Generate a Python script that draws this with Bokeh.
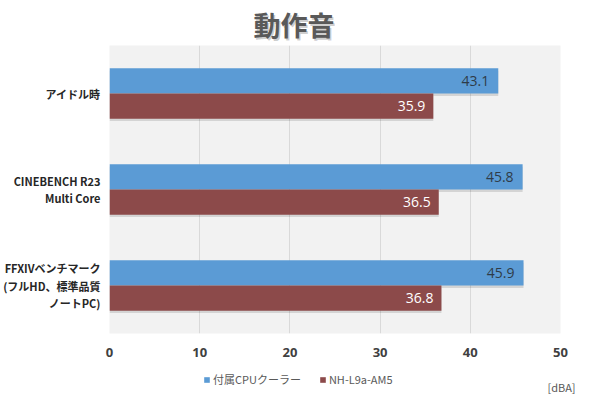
from bokeh.plotting import figure
from bokeh.layouts import column
from bokeh.models import (ColumnDataSource, FactorRange, Range1d, Legend, LegendItem,
                          Label, FixedTicker, Plot)
from bokeh.transform import dodge
from bokeh.core.properties import value
from bokeh.embed import file_html
from bokeh.resources import INLINE

# ---- data ----
categories = ["アイドル時", "CINEBENCH R23\nMulti Core", "FFXIVベンチマーク\n(フルHD、標準品質\nノートPC)"]
series_names = ["付属CPUクーラー", "NH-L9a-AM5"]
stock_cooler = [43.1, 45.8, 45.9]
nh_l9a = [35.9, 36.5, 36.8]
x_ticks = [0, 10, 20, 30, 40, 50]
title_text = "動作音"
unit_text = "[dBA]"

BLUE = "#5B9BD5"
RED = "#8C4A4A"
JP = "Noto Sans CJK JP"
W = 590
HAS_FA = "frame_align" in Plot.properties()


def no_align(f):
    if HAS_FA:
        f.frame_align = False
    return f


def helper_fig(h):
    f = figure(width=W, height=h, output_backend="svg", toolbar_location=None,
               x_range=Range1d(0, W), y_range=Range1d(0, h),
               x_axis_location=None, y_axis_location=None,
               min_border=0, min_border_left=0, min_border_right=0,
               min_border_top=0, min_border_bottom=0)
    f.outline_line_color = None
    f.grid.visible = False
    f.background_fill_color = "white"
    f.border_fill_color = "white"
    return no_align(f)


src = ColumnDataSource(dict(
    cat=categories,
    stock=stock_cooler,
    nh=nh_l9a,
    stock_lbl=[f"{v:.1f}" for v in stock_cooler],
    nh_lbl=[f"{v:.1f}" for v in nh_l9a],
))

# ---- title strip ----
TH = 45
t = helper_fig(TH)
t.add_layout(Label(x=295, y=TH - 25.5, text=title_text,
                   text_align="center", text_baseline="middle", text_font=JP,
                   text_font_style="bold", text_font_size="27px", text_color="#000000",
                   text_alpha=0.2))
t.add_layout(Label(x=293.5, y=TH - 24, text=title_text,
                   text_align="center", text_baseline="middle", text_font=JP,
                   text_font_style="bold", text_font_size="27px", text_color="#595959"))

# ---- main chart ----
p = figure(width=W, height=320, output_backend="svg", toolbar_location=None,
           y_range=FactorRange(factors=list(reversed(categories)), range_padding=0),
           x_range=Range1d(0, 50),
           min_border_left=108, min_border_right=30, min_border_top=0, min_border_bottom=32)
no_align(p)

p.background_fill_color = "#F2F2F2"
p.border_fill_color = "white"
p.outline_line_color = None

OFF = 0.131
H = 0.262

p.hbar(y=dodge("cat", OFF - 0.025, range=p.y_range), left=0, right="stock", height=H,
       source=src, fill_color="#000000", fill_alpha=0.12, line_color=None)
p.hbar(y=dodge("cat", -OFF - 0.025, range=p.y_range), left=0, right="nh", height=H,
       source=src, fill_color="#000000", fill_alpha=0.12, line_color=None)

r1 = p.hbar(y=dodge("cat", OFF, range=p.y_range), left=0, right="stock", height=H,
            source=src, fill_color=BLUE, line_color=None)
r2 = p.hbar(y=dodge("cat", -OFF, range=p.y_range), left=0, right="nh", height=H,
            source=src, fill_color=RED, line_color=None)

p.text(x="stock", y=dodge("cat", OFF, range=p.y_range), text="stock_lbl", source=src,
       x_offset=-9, text_align="right", text_baseline="middle",
       text_font=value("Open Sans"), text_font_size="14px", text_color="#2F3B48")
p.text(x="nh", y=dodge("cat", -OFF, range=p.y_range), text="nh_lbl", source=src,
       x_offset=-8, text_align="right", text_baseline="middle",
       text_font=value("Open Sans"), text_font_size="14px", text_color="white")

p.xaxis.ticker = FixedTicker(ticks=x_ticks)
p.xaxis.axis_line_color = None
p.xaxis.major_tick_line_color = None
p.xaxis.minor_tick_line_color = None
p.xaxis.major_tick_out = 0
p.xaxis.major_label_standoff = 14
p.xaxis.major_label_text_font = "Open Sans"
p.xaxis.major_label_text_font_style = "bold"
p.xaxis.major_label_text_font_size = "13px"
p.xaxis.major_label_text_color = "#404040"

p.yaxis.axis_line_color = None
p.yaxis.major_tick_line_color = None
p.yaxis.minor_tick_line_color = None
p.yaxis.major_tick_out = 0
p.yaxis.major_label_standoff = 9
p.yaxis.major_label_text_font = JP
p.yaxis.major_label_text_font_style = "bold"
p.yaxis.major_label_text_font_size = "11px"
p.yaxis.major_label_text_color = "#262626"
p.yaxis.major_label_text_line_height = 1.1

p.xgrid.grid_line_color = "#D9D9D9"
p.ygrid.grid_line_color = None

# ---- legend strip ----
BH = 33
b = helper_fig(BH)
# zero-size proxies of the two series (only their legend swatches are seen)
g1 = b.hbar(y="stock", left=0, right=0, height=0, source=src, fill_color=BLUE, line_color=None)
g2 = b.hbar(y="nh", left=0, right=0, height=0, source=src, fill_color=RED, line_color=None)
legend = Legend(items=[LegendItem(label=series_names[0], renderers=[g1]),
                       LegendItem(label=series_names[1], renderers=[g2])],
                orientation="horizontal", location=(203, 11),
                background_fill_alpha=0, border_line_color=None,
                glyph_width=7, glyph_height=7, label_standoff=3, spacing=18,
                padding=0, margin=0, label_height=12,
                label_text_font=JP, label_text_font_size="11px", label_text_color="#595959")
b.add_layout(legend, "center")
b.add_layout(Label(x=561, y=BH - 21, text=unit_text,
                   text_align="center", text_baseline="middle", text_font=JP,
                   text_font_size="11px", text_color="#595959"))

layout = column(t, p, b, spacing=0)
open("out.html", "w").write(file_html(layout, INLINE))
